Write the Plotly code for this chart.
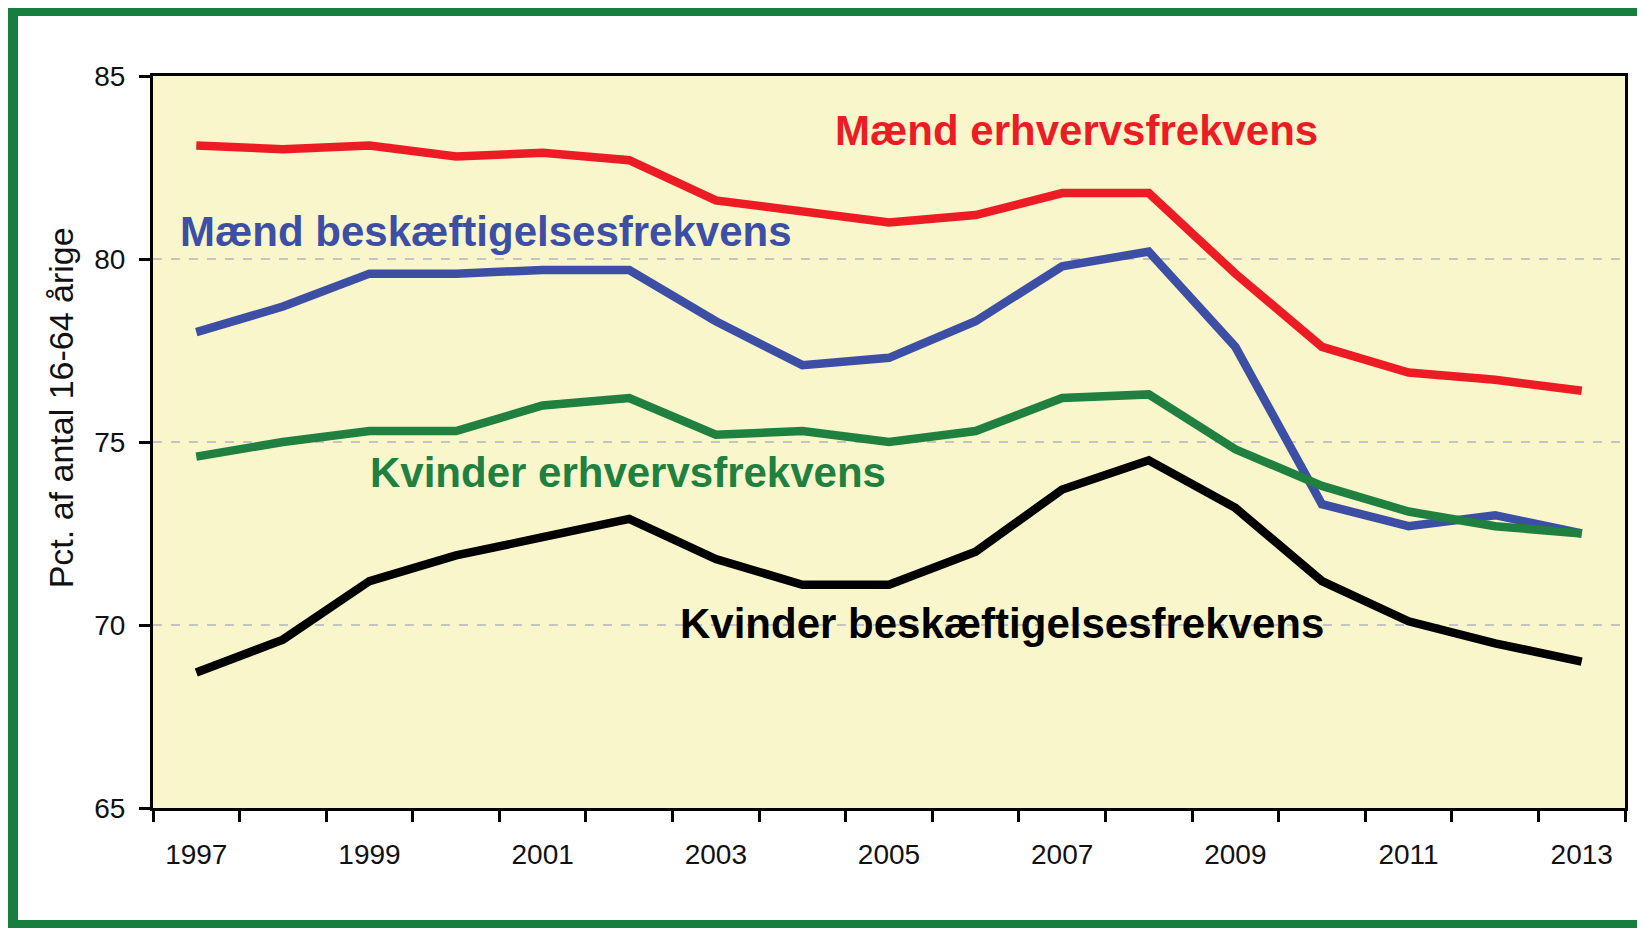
import plotly.graph_objects as go

years = list(range(1997, 2014))
tick_years = [1997, 1999, 2001, 2003, 2005, 2007, 2009, 2011, 2013]
tick_labels = [str(y) for y in tick_years]

maend_erhverv = [83.1, 83.0, 83.1, 82.8, 82.9, 82.7, 81.6, 81.3, 81.0, 81.2,
                 81.8, 81.8, 79.6, 77.6, 76.9, 76.7, 76.4]
maend_beskaeft = [78.0, 78.7, 79.6, 79.6, 79.7, 79.7, 78.3, 77.1, 77.3, 78.3,
                  79.8, 80.2, 77.6, 73.3, 72.7, 73.0, 72.5]
kvinder_erhverv = [74.6, 75.0, 75.3, 75.3, 76.0, 76.2, 75.2, 75.3, 75.0, 75.3,
                   76.2, 76.3, 74.8, 73.8, 73.1, 72.7, 72.5]
kvinder_beskaeft = [68.7, 69.6, 71.2, 71.9, 72.4, 72.9, 71.8, 71.1, 71.1, 72.0,
                    73.7, 74.5, 73.2, 71.2, 70.1, 69.5, 69.0]

series = [
    ("Mænd erhvervsfrekvens", maend_erhverv, "#ED1C24", 2007.16, 83.5),
    ("Mænd beskæftigelsesfrekvens", maend_beskaeft, "#3C4FA5", 2000.34, 80.76),
    ("Kvinder erhvervsfrekvens", kvinder_erhverv, "#20803F", 2001.98, 74.17),
    ("Kvinder beskæftigelsesfrekvens", kvinder_beskaeft, "#000000", 2006.31, 70.04),
]

fig = go.Figure()
for name, vals, color, lx, ly in series:
    fig.add_trace(go.Scatter(x=years, y=vals, mode="lines", name=name,
                             line=dict(color=color, width=8.5)))
    fig.add_annotation(x=lx, y=ly, text="<b>" + name + "</b>", showarrow=False,
                       font=dict(size=42, color=color, family="Liberation Sans"))

fig.add_annotation(x=-0.0625, y=0.546, xref="paper", yref="paper",
                   xanchor="center", yanchor="middle",
                   text="Pct. af antal 16-64 årige", textangle=-90, showarrow=False,
                   font=dict(size=34, color="#111111"))

# green frame = green paper with a white panel on it, open on the right side
fig.add_shape(type="rect", xref="paper", yref="paper", layer="below",
              x0=-0.0917, x1=1.0136, y0=-0.1530, y1=1.0820,
              fillcolor="white", line=dict(width=0))
# yellow plot area on top of the white panel
fig.add_shape(type="rect", xref="paper", yref="paper", layer="below",
              x0=0, x1=1, y0=0, y1=1,
              fillcolor="#F8F6CA", line=dict(width=0))

# the page has an 8px body margin, so the figure is shrunk to fit without scrolling
fig.update_layout(
    width=1637, height=920,
    margin=dict(l=145, r=20, t=68, b=120),
    paper_bgcolor="#167F3F",
    plot_bgcolor="rgba(0,0,0,0)",
    showlegend=False,
    font=dict(family="Liberation Sans", color="#111111"),
)
fig.update_xaxes(
    range=[1996.5, 2013.5], tickmode="array", tickvals=tick_years, ticktext=tick_labels,
    ticks="", ticklabelstandoff=19, tickfont=dict(size=28),
    showgrid=False, zeroline=False,
    showline=True, linecolor="black", linewidth=3, mirror=True,
    minor=dict(tick0=1996.5, dtick=1, ticks="outside", ticklen=11, tickwidth=3,
               tickcolor="black", showgrid=False),
)
fig.update_yaxes(
    range=[65, 85], dtick=5, ticks="outside", ticklen=11, tickwidth=3, tickcolor="black",
    tickfont=dict(size=28), ticklabelstandoff=8,
    showgrid=True, gridcolor="#C4C4C4", griddash="dash", gridwidth=1.5, zeroline=False,
    showline=True, linecolor="black", linewidth=3, mirror=True,
)

fig.write_html("out.html")
